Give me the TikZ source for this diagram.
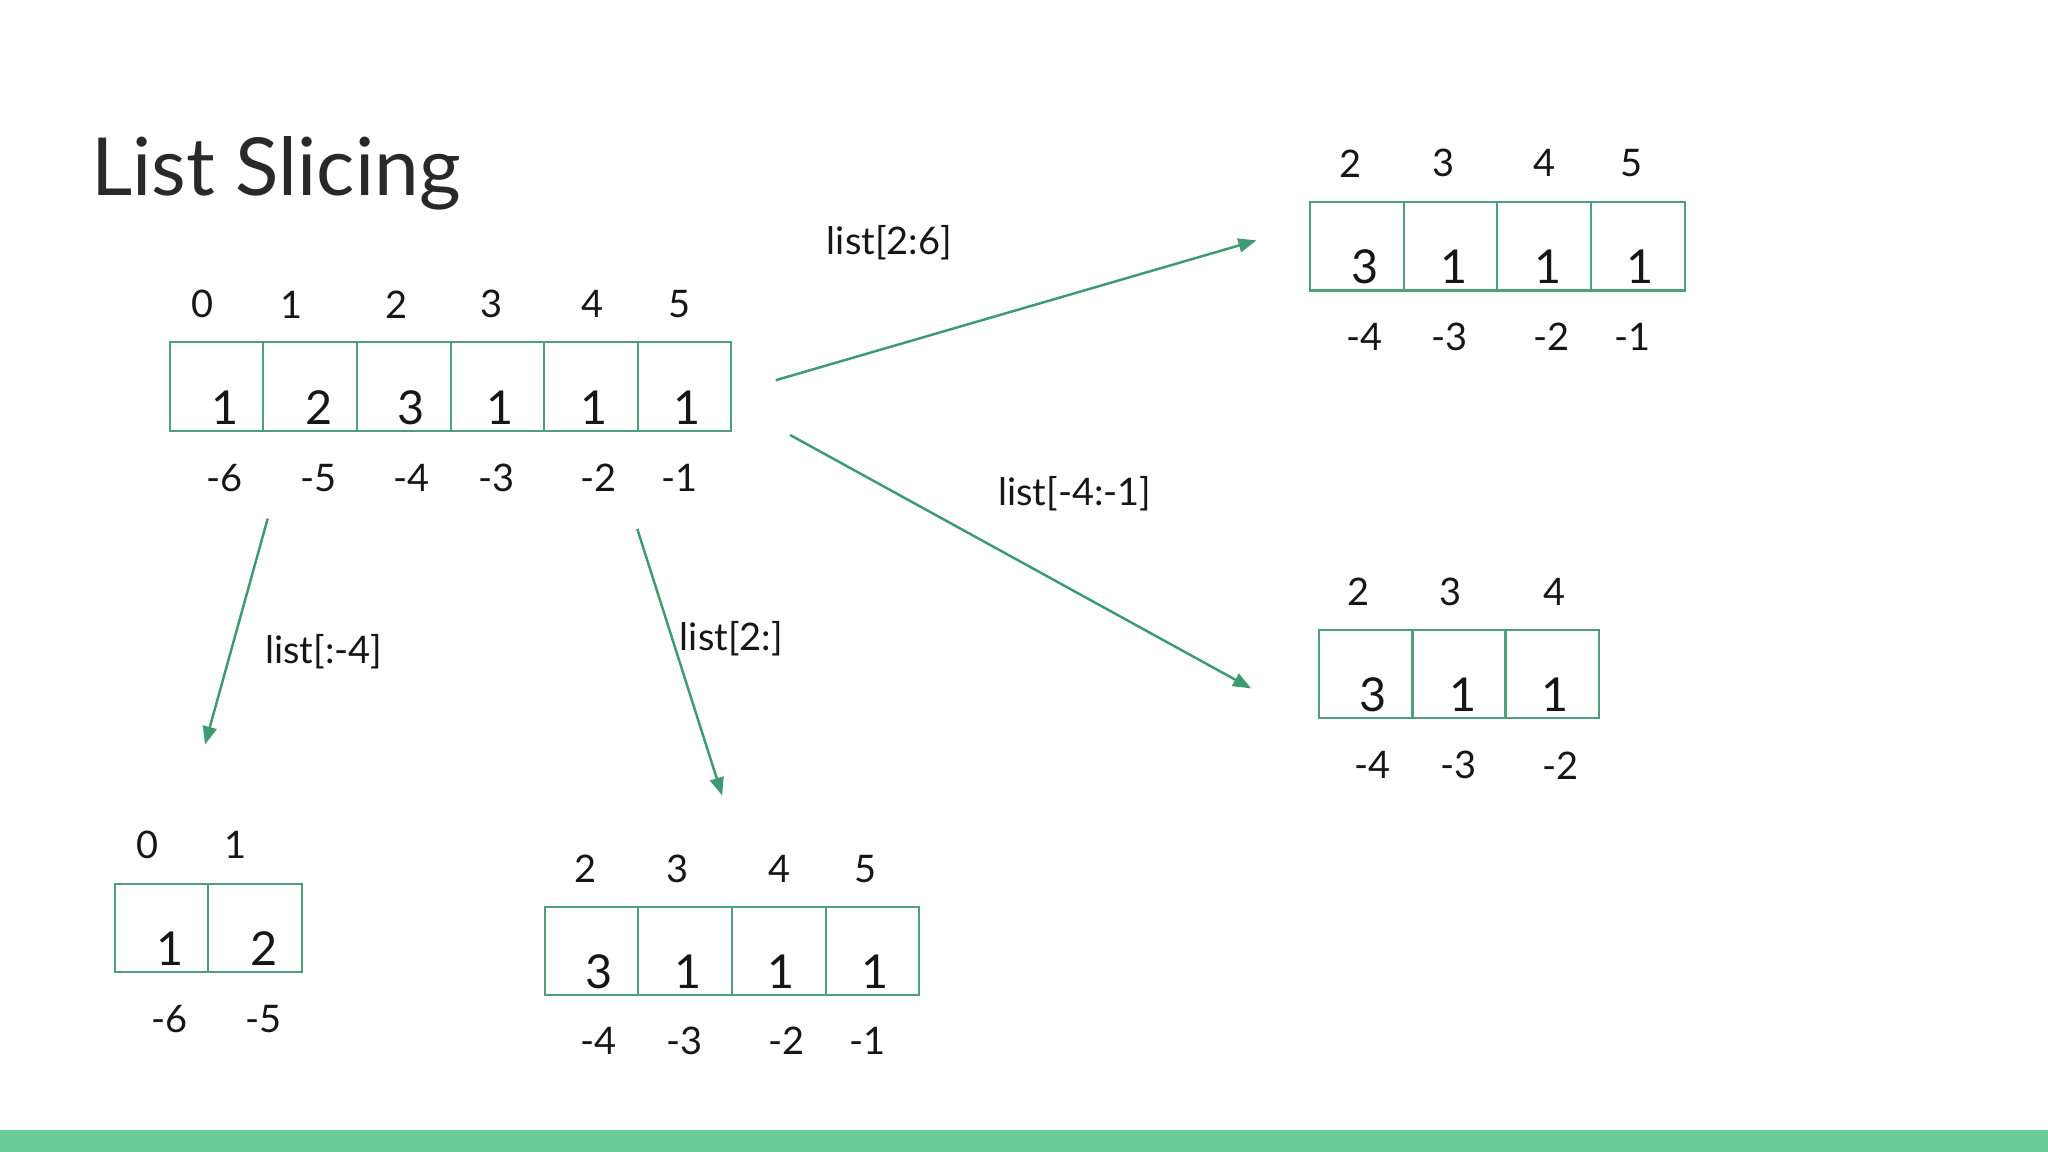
\documentclass[tikz,border=0pt]{standalone}
\usepackage{fontspec}
\setmainfont{Lato}
\usetikzlibrary{arrows.meta,positioning,calc}
\definecolor{boxgreen}{RGB}{78,160,122}
\definecolor{arrowgreen}{RGB}{62,154,112}
\definecolor{bargreen}{RGB}{104,205,152}
\definecolor{ink}{RGB}{22,22,22}
\tikzset{
  cell/.style={draw=boxgreen,line width=0.6pt,minimum width=0.936cm,minimum height=0.885cm,inner sep=0pt},
  idx/.style={font=\fontsize{10.8}{12}\selectfont,text=ink,inner sep=0pt},
  val/.style={font=\fontsize{13.3}{15}\selectfont,text=ink,inner sep=0pt},
  arr/.style={-{Triangle[length=1.8mm,width=1.4mm]},line width=0.7pt,draw=arrowgreen},
  lab/.style={font=\fontsize{10.8}{13}\selectfont,text=ink,inner sep=0pt}
}

\begin{document}
\begin{tikzpicture}
  \useasboundingbox (0,0) rectangle (20.48,11.52);
  \fill[white] (0,0) rectangle (20.48,11.52);
  \fill[bargreen] (0,0) rectangle (20.48,0.22);
  \node[anchor=base west,font=\fontsize{22.8}{28}\selectfont,text=ink!92] (title) at (0.79,9.56) {List Slicing};

  % full list
  \foreach \i in {1,...,6}{\node[cell] (m\i) at ({1.698+0.936*(\i-0.5)},7.653) {};}
  \foreach \x/\t [count=\i] in {2.024/0,2.912/1,3.970/2,4.911/3,5.929/4,6.791/5}{\node[idx] (mi\i) at (\x,8.476) {\t};}
  \foreach \x/\t [count=\i] in {2.246/1,3.187/2,4.114/3,5.002/1,5.942/1,6.870/1}{\node[val] (mv\i) at (\x,7.444) {\t};}
  \foreach \x/\t [count=\i] in {2.246/-6,3.187/-5,4.114/-4,4.963/-3,5.981/-2,6.791/-1}{\node[idx] (mn\i) at (\x,6.739) {\t};}

  % list[2:6]
  \foreach \i in {1,...,4}{\node[cell] (a\i) at ({13.099+0.937*(\i-0.5)},9.057) {};}
  \foreach \x/\t [count=\i] in {13.504/2,14.431/3,15.450/4,16.312/5}{\node[idx] (ai\i) at (\x,9.886) {\t};}
  \foreach \x/\t [count=\i] in {13.648/3,14.536/1,15.476/1,16.403/1}{\node[val] (av\i) at (\x,8.855) {\t};}
  \foreach \x/\t [count=\i] in {13.648/-4,14.497/-3,15.515/-2,16.325/-1}{\node[idx] (an\i) at (\x,8.149) {\t};}

  % list[-4:-1]
  \foreach \i in {1,...,3}{\node[cell] (b\i) at ({13.191+0.932*(\i-0.5)},4.780) {};}
  \foreach \x/\t [count=\i] in {13.582/2,14.510/3,15.541/4}{\node[idx] (bi\i) at (\x,5.603) {\t};}
  \foreach \x/\t [count=\i] in {13.726/3,14.627/1,15.554/1}{\node[val] (bv\i) at (\x,4.571) {\t};}
  \foreach \x/\t [count=\i] in {13.726/-4,14.588/-3,15.607/-2}{\node[idx] (bn\i) at (\x,3.866) {\t};}

  % list[:-4]
  \foreach \i in {1,2}{\node[cell] (c\i) at ({1.149+0.934*(\i-0.5)},2.240) {};}
  \foreach \x/\t [count=\i] in {1.476/0,2.351/1}{\node[idx] (ci\i) at (\x,3.069) {\t};}
  \foreach \x/\t [count=\i] in {1.698/1,2.638/2}{\node[val] (cv\i) at (\x,2.037) {\t};}
  \foreach \x/\t [count=\i] in {1.698/-6,2.638/-5}{\node[idx] (cn\i) at (\x,1.332) {\t};}

  % list[2:]
  \foreach \i in {1,...,4}{\node[cell] (d\i) at ({5.446+0.937*(\i-0.5)},2.011) {};}
  \foreach \x/\t [count=\i] in {5.851/2,6.778/3,7.797/4,8.659/5}{\node[idx] (di\i) at (\x,2.834) {\t};}
  \foreach \x/\t [count=\i] in {5.995/3,6.883/1,7.810/1,8.750/1}{\node[val] (dv\i) at (\x,1.802) {\t};}
  \foreach \x/\t [count=\i] in {5.981/-4,6.843/-3,7.862/-2,8.672/-1}{\node[idx] (dn\i) at (\x,1.110) {\t};}

  % slicing arrows
  \coordinate (s1) at (7.758,7.718);  \coordinate (e1) at (12.564,9.116);
  \coordinate (s2) at (7.901,7.170);  \coordinate (e2) at (12.511,4.636);
  \coordinate (s3) at (2.677,6.334);  \coordinate (e3) at (2.050,4.075);
  \coordinate (s4) at (6.373,6.230);  \coordinate (e4) at (7.222,3.565);
  \draw[arr] (s1) -- (e1);
  \draw[arr] (s2) -- (e2);
  \draw[arr] (s3) -- (e3);
  \draw[arr] (s4) -- (e4);
  \node[lab] (l1) at (8.894,9.090) {list[2:6]};
  \node[lab] (l2) at (10.748,6.582) {list[-4:-1]};
  \node[lab] (l3) at (3.239,5.002) {list[:-4]};
  \node[lab] (l4) at (7.314,5.133) {list[2:]};
\end{tikzpicture}
\end{document}
